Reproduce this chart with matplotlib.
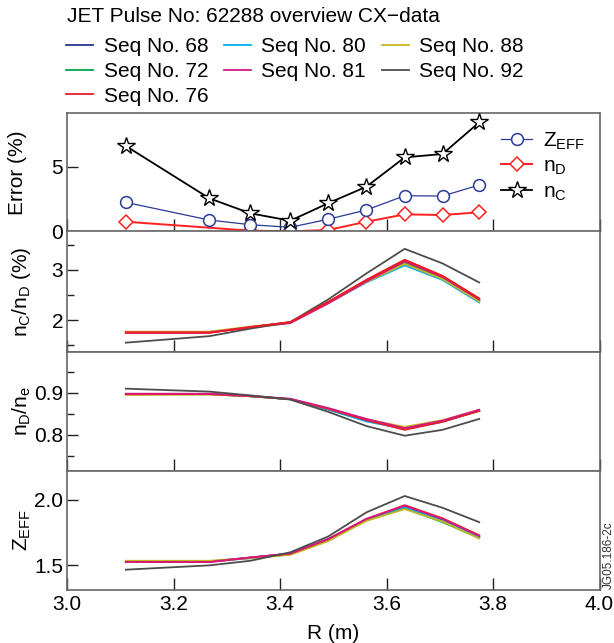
# %% Imports:
import matplotlib
matplotlib.use("Agg")
import matplotlib.pyplot as plt
from matplotlib.lines import Line2D
from matplotlib.ticker import MultipleLocator

plt.rcParams['font.family'] = ['Liberation Sans', 'DejaVu Sans']
plt.rcParams['mathtext.default'] = 'regular'

# %% Data
R = [3.11, 3.267, 3.344, 3.419, 3.49, 3.562, 3.634, 3.705, 3.774]
R_nd = [3.11, 3.344, 3.419, 3.49, 3.562, 3.634, 3.705, 3.774]

err_zeff = [2.24, 0.87, 0.51, 0.31, 0.93, 1.65, 2.75, 2.73, 3.58]
err_nd = [0.74, 0.05, 0.0, 0.1, 0.74, 1.31, 1.26, 1.47]
err_nc = [6.60, 2.55, 1.39, 0.82, 2.17, 3.45, 5.72, 5.98, 8.43]

seq_nums = [68, 72, 76, 80, 81, 88, 92]
seq_colors = ['#2e3192', '#00a651', '#ed1c24', '#00aeef', '#d6197f', '#c9b61e', '#4d4d4d']

# nC/nD (%) per sequence
ncnd_68 = [1.76, 1.76, 1.86, 1.95, 2.35, 2.78, 3.16, 2.85, 2.40]
ncnd_72 = [1.76, 1.76, 1.86, 1.95, 2.35, 2.77, 3.14, 2.83, 2.38]
ncnd_76 = [1.75, 1.75, 1.86, 1.96, 2.36, 2.80, 3.20, 2.88, 2.43]
ncnd_80 = [1.76, 1.76, 1.86, 1.95, 2.34, 2.75, 3.09, 2.80, 2.35]
ncnd_81 = [1.75, 1.75, 1.85, 1.94, 2.33, 2.77, 3.17, 2.86, 2.41]
ncnd_88 = [1.77, 1.77, 1.87, 1.95, 2.34, 2.76, 3.12, 2.82, 2.37]
ncnd_92 = [1.55, 1.68, 1.83, 1.96, 2.41, 2.93, 3.42, 3.13, 2.75]

# nD/ne per sequence
ndne_68 = [0.897, 0.897, 0.892, 0.885, 0.862, 0.835, 0.815, 0.832, 0.858]
ndne_72 = [0.897, 0.897, 0.892, 0.885, 0.861, 0.834, 0.815, 0.832, 0.857]
ndne_76 = [0.897, 0.897, 0.892, 0.885, 0.862, 0.835, 0.812, 0.831, 0.857]
ndne_80 = [0.897, 0.897, 0.892, 0.885, 0.860, 0.832, 0.814, 0.831, 0.858]
ndne_81 = [0.898, 0.898, 0.893, 0.886, 0.864, 0.838, 0.816, 0.834, 0.860]
ndne_88 = [0.895, 0.896, 0.892, 0.885, 0.863, 0.837, 0.819, 0.835, 0.859]
ndne_92 = [0.910, 0.903, 0.894, 0.884, 0.855, 0.821, 0.798, 0.812, 0.838]

# Zeff per sequence
zeff_68 = [1.530, 1.530, 1.560, 1.590, 1.700, 1.850, 1.950, 1.850, 1.720]
zeff_72 = [1.530, 1.530, 1.555, 1.585, 1.690, 1.845, 1.935, 1.830, 1.710]
zeff_76 = [1.525, 1.525, 1.560, 1.590, 1.700, 1.855, 1.960, 1.860, 1.730]
zeff_80 = [1.530, 1.530, 1.555, 1.585, 1.695, 1.850, 1.945, 1.840, 1.715]
zeff_81 = [1.525, 1.525, 1.560, 1.590, 1.700, 1.855, 1.955, 1.855, 1.725]
zeff_88 = [1.535, 1.535, 1.555, 1.580, 1.685, 1.840, 1.930, 1.835, 1.705]
zeff_92 = [1.467, 1.500, 1.535, 1.600, 1.720, 1.905, 2.030, 1.940, 1.830]

ncnd = [ncnd_68, ncnd_72, ncnd_76, ncnd_80, ncnd_81, ncnd_88, ncnd_92]
ndne = [ndne_68, ndne_72, ndne_76, ndne_80, ndne_81, ndne_88, ndne_92]
zeff = [zeff_68, zeff_72, zeff_76, zeff_80, zeff_81, zeff_88, zeff_92]

# %% Figure layout
W, H = 614, 643
fig = plt.figure(figsize=(W / 100, H / 100), dpi=100)

left = 67.3 / W
width = (599.5 - 67.3) / W
edges = [113.3, 231.3, 351.7, 471.0, 589.7]   # pixel rows of panel borders
axes = []
for top, bot in zip(edges[:-1], edges[1:]):
    ax = fig.add_axes([left, 1 - bot / H, width, (bot - top) / H])
    axes.append(ax)
ax1, ax2, ax3, ax4 = axes

spine_col = '#666666'
fs = 15
for ax in axes:
    for s in ax.spines.values():
        s.set_color(spine_col)
        s.set_linewidth(1.2)
    ax.set_xlim(3.0, 4.0)
    ax.set_xticks([3.0, 3.2, 3.4, 3.6, 3.8, 4.0])
    ax.tick_params(axis='x', direction='in', length=9, width=1.0, color='#222222',
                   top=False, labelbottom=False)
    ax.tick_params(axis='y', which='major', direction='in', length=8, width=1.0,
                   color='#222222', right=False, labelsize=fs, pad=3)
    ax.tick_params(axis='y', which='minor', direction='in', length=5, width=1.0,
                   color='#222222', right=False)
ax4.tick_params(axis='x', labelbottom=True, labelsize=fs, pad=4)
ax4.set_xticklabels(['3.0', '3.2', '3.4', '3.6', '3.8', '4.0'])

# %% Top panel: errors
ax1.spines['bottom'].set_color('black')
ax1.spines['bottom'].set_linewidth(1.0)
l_z, = ax1.plot(R, err_zeff, color='#2b3a96', lw=0.9, marker='o', ms=8.5,
                mfc='white', mec='#2b3a96', mew=1.1, clip_on=False, zorder=3)
l_d, = ax1.plot(R_nd, err_nd, color='#ff2020', lw=1.4, marker='D', ms=7.5,
                mfc='white', mec='#ff2020', mew=1.1, clip_on=False, zorder=2)
l_c, = ax1.plot(R, err_nc, color='black', lw=1.3, marker='*', ms=13,
                mfc='white', mec='black', mew=1.0, clip_on=False, zorder=4)
ax1.set_ylim(0, 9.13)
ax1.set_yticks([0, 5])
ax1.set_ylabel('Error (%)', fontsize=fs)
ax1.yaxis.set_label_coords(-0.076, 0.5)
ax1.legend([l_z, l_d, l_c], ['Z$_{EFF}$', 'n$_D$', 'n$_C$'], loc='upper right',
           bbox_to_anchor=(1.0, 0.98), frameon=False, fontsize=fs, handlelength=1.5,
           handletextpad=0.5, labelspacing=0.25, borderaxespad=0.3)

# %% Profile panels
order = [0, 1, 3, 5, 2, 4, 6]   # drawing order, gray last
for i in order:
    ax2.plot(R, ncnd[i], color=seq_colors[i], lw=1.3)
    ax3.plot(R, ndne[i], color=seq_colors[i], lw=1.3)
    ax4.plot(R, zeff[i], color=seq_colors[i], lw=1.3)
# red sits on top of the band in the nC/nD panel
ax2.plot(R, ncnd[2], color=seq_colors[2], lw=1.3)

ax2.set_ylim(1.37, 3.77)
ax2.yaxis.set_major_locator(MultipleLocator(1))
ax2.yaxis.set_minor_locator(MultipleLocator(0.5))
ax2.set_ylabel('n$_C$/n$_D$ (%)', fontsize=fs)
ax2.yaxis.set_label_coords(-0.064, 0.5)

ax3.set_ylim(0.714, 0.998)
ax3.set_yticks([0.8, 0.9])
ax3.yaxis.set_minor_locator(MultipleLocator(0.05))
ax3.set_ylabel('n$_D$/n$_e$', fontsize=fs)
ax3.yaxis.set_label_coords(-0.064, 0.5)

ax4.set_ylim(1.314, 2.221)
ax4.set_yticks([1.5, 2.0])
ax4.set_yticklabels(['1.5', '2.0'])
ax4.set_ylabel('Z$_{EFF}$', fontsize=fs)
ax4.yaxis.set_label_coords(-0.064, 0.5)
ax4.set_xlabel('R (m)', fontsize=fs, labelpad=7)

# %% Header text and sequence legend
fig.text(67 / W, 1 - 17 / H, 'JET Pulse No: 62288 overview CX\u2212data',
         fontsize=fs, va='center', ha='left')
handles = [Line2D([0], [0], color=c, lw=1.3) for c in seq_colors]
labels = [f'Seq No. {n}' for n in seq_nums]
fig.legend(handles, labels, loc='upper left', bbox_to_anchor=(66 / W, 1 - 37 / H),
           ncol=3, frameon=False, fontsize=fs, handlelength=1.3, handletextpad=0.5,
           columnspacing=0.75, labelspacing=0.28, borderpad=0, borderaxespad=0)

fig.text(609 / W, 1 - 589 / H, 'JG05.186-2c', rotation=90, fontsize=8.5,
         color='#333333', ha='center', va='bottom')

plt.savefig('out.png', dpi=100)
plt.close()
